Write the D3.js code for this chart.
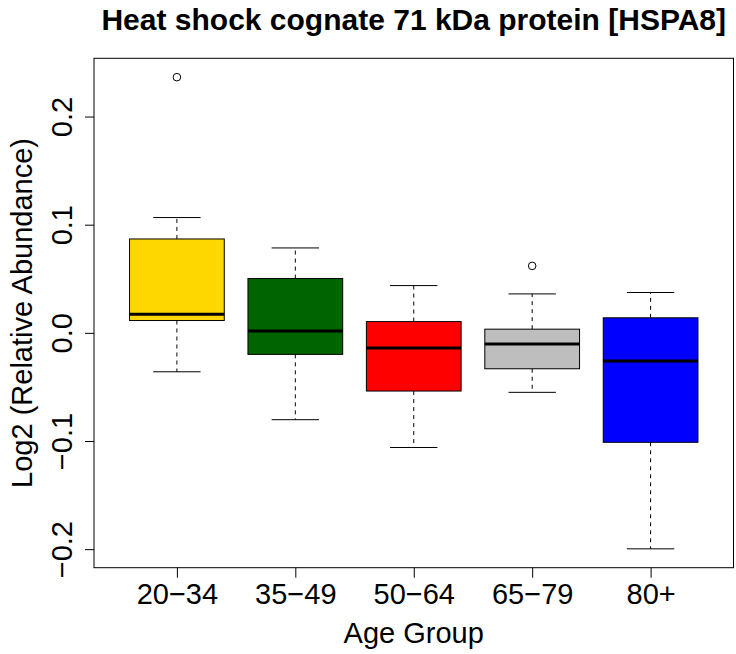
<!DOCTYPE html>
<html>
<head>
<meta charset="utf-8">
<script src="https://cdn.jsdelivr.net/npm/d3@7"></script>
<style>
  html, body { margin: 0; padding: 0; background: #ffffff; }
  svg { display: block; }
  text { font-family: "Liberation Sans", Arial, Helvetica, sans-serif; fill: #000; }
</style>
</head>
<body>
<svg id="chart" width="736" height="654"></svg>
<script>
// ---- data ----
const categories = ["20−34", "35−49", "50−64", "65−79", "80+"];
const whiskerLow  = [-0.036, -0.0803, -0.106, -0.055, -0.1997];
const q1          = [0.0114, -0.0199, -0.0538, -0.0332, -0.1012];
const medians     = [0.0173, 0.0018, -0.0140, -0.0102, -0.0261];
const q3          = [0.0868, 0.0502, 0.0104, 0.0034, 0.0139];
const whiskerHigh = [0.1066, 0.0785, 0.0437, 0.0360, 0.0373];
const outliers    = [[0.2364], [], [], [0.0619], []];
const boxColors   = ["#FFD700", "#006400", "#FF0000", "#BEBEBE", "#0000FF"];
const yTicks      = [-0.2, -0.1, 0.0, 0.1, 0.2];
const titleText   = "Heat shock cognate 71 kDa protein [HSPA8]";
const xTitle      = "Age Group";
const yTitle      = "Log2 (Relative Abundance)";

// ---- layout ----
const plot = { left: 94, right: 733.5, top: 58.3, bottom: 567.7 };
const svg = d3.select("#chart");

const yMin = d3.min(whiskerLow), yMax = d3.max([...whiskerHigh, ...outliers.flat()]);
const pad = (yMax - yMin) * 0.04;
const y = d3.scaleLinear().domain([yMin - pad, yMax + pad]).range([plot.bottom, plot.top]);
const x = d3.scaleLinear().domain([0.3, categories.length + 0.7]).range([plot.left, plot.right]);

const boxW = x(1.4) - x(1.0);   // half-width of box (boxwex 0.8)
const capW = boxW / 2;          // staple half-width

const groups = categories.map((c, i) => ({
  i, c, lo: whiskerLow[i], q1: q1[i], med: medians[i], q3: q3[i], hi: whiskerHigh[i],
  out: outliers[i], col: boxColors[i]
}));

const g = svg.append("g");

// whiskers (dashed)
g.selectAll(".wlow").data(groups).join("line")
  .attr("x1", d => x(d.i + 1)).attr("x2", d => x(d.i + 1))
  .attr("y1", d => y(d.q1)).attr("y2", d => y(d.lo))
  .attr("stroke", "#000").attr("stroke-width", 1).attr("stroke-dasharray", "4,4");
g.selectAll(".whigh").data(groups).join("line")
  .attr("x1", d => x(d.i + 1)).attr("x2", d => x(d.i + 1))
  .attr("y1", d => y(d.q3)).attr("y2", d => y(d.hi))
  .attr("stroke", "#000").attr("stroke-width", 1).attr("stroke-dasharray", "4,4");
// staples
["lo", "hi"].forEach(k => {
  g.selectAll(".cap" + k).data(groups).join("line")
    .attr("x1", d => x(d.i + 1) - capW).attr("x2", d => x(d.i + 1) + capW)
    .attr("y1", d => y(d[k])).attr("y2", d => y(d[k]))
    .attr("stroke", "#000").attr("stroke-width", 1);
});
// boxes
g.selectAll(".box").data(groups).join("rect")
  .attr("x", d => x(d.i + 1) - boxW).attr("width", 2 * boxW)
  .attr("y", d => y(d.q3)).attr("height", d => y(d.q1) - y(d.q3))
  .attr("fill", d => d.col).attr("stroke", "#000").attr("stroke-width", 1);
// medians
g.selectAll(".med").data(groups).join("line")
  .attr("x1", d => x(d.i + 1) - boxW).attr("x2", d => x(d.i + 1) + boxW)
  .attr("y1", d => y(d.med)).attr("y2", d => y(d.med))
  .attr("stroke", "#000").attr("stroke-width", 3);
// outliers
groups.forEach(d => {
  g.selectAll(null).data(d.out).join("circle")
    .attr("cx", x(d.i + 1)).attr("cy", v => y(v)).attr("r", 3.8)
    .attr("fill", "none").attr("stroke", "#000").attr("stroke-width", 1);
});

// frame
svg.append("rect")
  .attr("x", plot.left).attr("y", plot.top)
  .attr("width", plot.right - plot.left).attr("height", plot.bottom - plot.top)
  .attr("fill", "none").attr("stroke", "#000").attr("stroke-width", 1);

// y axis
const yAxis = svg.append("g").attr("transform", `translate(${plot.left},0)`)
  .call(d3.axisLeft(y).tickValues(yTicks).tickSize(9).tickFormat(d3.format(".1f")));
yAxis.select(".domain").remove();
yAxis.selectAll(".tick line").attr("stroke", "#000");
yAxis.selectAll(".tick text")
  .attr("x", null).attr("dy", null)
  .attr("text-anchor", "middle")
  .attr("transform", "translate(-22,0) rotate(-90)")
  .attr("font-size", 29).attr("fill", "#000")
  .style("font-family", '"Liberation Sans", Arial, sans-serif');

// x axis
const xAxis = svg.append("g").attr("transform", `translate(0,${plot.bottom})`)
  .call(d3.axisBottom(x).tickValues(categories.map((c, i) => i + 1)).tickSize(10)
        .tickFormat((d, i) => categories[i]));
xAxis.select(".domain").remove();
xAxis.selectAll(".tick line").attr("stroke", "#000");
xAxis.selectAll(".tick text")
  .attr("y", 36).attr("dy", null)
  .attr("font-size", 29).attr("fill", "#000")
  .style("font-family", '"Liberation Sans", Arial, sans-serif');

// titles
svg.append("text").attr("x", (plot.left + plot.right) / 2).attr("y", 30)
  .attr("text-anchor", "middle").attr("font-size", 30).attr("font-weight", "bold")
  .text(titleText);
svg.append("text").attr("x", (plot.left + plot.right) / 2).attr("y", 643)
  .attr("text-anchor", "middle").attr("font-size", 29).text(xTitle);
svg.append("text")
  .attr("transform", `translate(32,${(plot.top + plot.bottom) / 2}) rotate(-90)`)
  .attr("text-anchor", "middle").attr("font-size", 29).text(yTitle);
</script>
</body>
</html>
